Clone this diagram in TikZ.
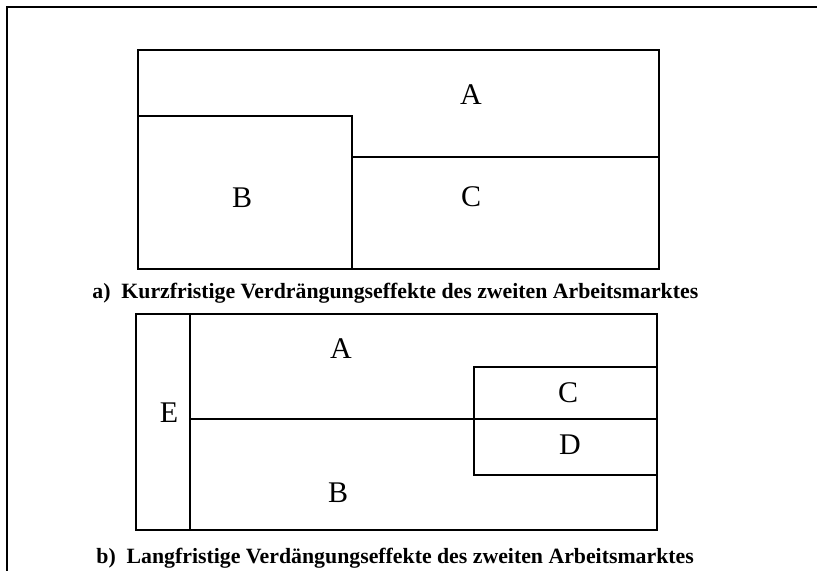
\documentclass[tikz,border=0pt]{standalone}
\usepackage{fontspec}
\setmainfont{Liberation Serif}
\begin{document}
\begin{tikzpicture}[x=0.5pt, y=-0.5pt, every node/.style={inner sep=0pt}]
\tikzset{region/.style={line width=1.3pt}, frame/.style={line width=0.8pt},
  lbl/.style={font=\fontsize{15}{18}\selectfont, anchor=center},
  capt/.style={font=\fontsize{10.9}{12}\selectfont\bfseries, anchor=base west}}
\useasboundingbox (0,0) rectangle (817,571);
% outer frame
\draw[frame] (7,571) -- (7,7) -- (817,7);
% part a
\draw[region] (138,50) rectangle (659,269);
\draw[region] (138,116) -- (352,116) -- (352,269);
\draw[region] (352,157) -- (659,157);
\node[lbl] (aA) at (471,95) {A}; \node[lbl] (aB) at (242,198) {B}; \node[lbl] (aC) at (471,197) {C};
\node[capt] (capa) at (92,299) {a)\ \ Kurzfristige Verdrängungseffekte des zweiten Arbeitsmarktes};
% part b
\draw[region] (136,314) rectangle (657,530);
\draw[region] (190,314) -- (190,530);
\draw[region] (190,419) -- (657,419);
\draw[region] (474,367) rectangle (657,475);
\node[lbl] (bA) at (341,349) {A}; \node[lbl] (bB) at (338,493) {B}; \node[lbl] (bC) at (568,393) {C};
\node[lbl] (bD) at (570,445) {D}; \node[lbl] (bE) at (169,413) {E};
\node[capt] (captb) at (96,563) {b)\ \ Langfristige Verdängungseffekte des zweiten Arbeitsmarktes};
\end{tikzpicture}
\end{document}
